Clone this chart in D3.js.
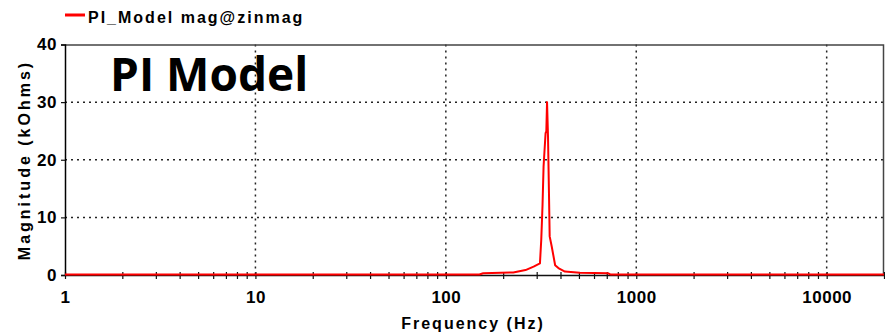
<!DOCTYPE html>
<html>
<head>
<meta charset="utf-8">
<script src="https://cdn.jsdelivr.net/npm/d3@7"></script>
<style>
  body { margin: 0; background: #fff; }
  svg text { font-family: "Liberation Sans", Arial, sans-serif; font-weight: bold; }
</style>
</head>
<body>
<div id="viz"></div>
<script>
// impedance magnitude vs frequency
const freqs = [1, 10, 100, 150, 157, 226, 262, 289, 312, 317, 322, 326, 334, 337, 340, 344, 348, 351, 360, 375, 390, 422, 506, 600, 713, 730, 1000, 10000, 20000];
const mags  = [0.1, 0.1, 0.1, 0.1, 0.3, 0.45, 0.85, 1.45, 2.0, 6.1, 12.2, 18.8, 24.6, 24.9, 30.0, 24.0, 14.2, 6.7, 4.9, 1.7, 1.2, 0.6, 0.4, 0.35, 0.3, 0.1, 0.1, 0.1, 0.1];

const xTickLabels = [1, 10, 100, 1000, 10000];
const yTicks = [0, 10, 20, 30, 40];
const seriesName = "PI_Model mag@zinmag";

const dataset = freqs.map((f, i) => ({ freq: f, mag: mags[i] }));

const xAccessor = d => d.freq;
const yAccessor = d => d.mag;

const dimensions = {
    width: 885,
    height: 336,
    margins: { top: 44.5, left: 65, right: 1, bottom: 61 }
};
dimensions.boundedWidth = dimensions.width - dimensions.margins.left - dimensions.margins.right;
dimensions.boundedHeight = dimensions.height - dimensions.margins.top - dimensions.margins.bottom;

const viz = d3.select('#viz').append('svg')
    .attr('width', dimensions.width)
    .attr('height', dimensions.height);

const bounds = viz.append('g')
    .attr('transform', `translate(${dimensions.margins.left},${dimensions.margins.top})`);

// scales
const xScale = d3.scaleLog()
    .domain([1, 20000])
    .range([0, dimensions.boundedWidth]);

const yScale = d3.scaleLinear()
    .domain([0, 40])
    .range([dimensions.boundedHeight, 0]);

// minor ticks 1..9 per decade
const minorTicks = [];
for (let p = 0; p <= 4; p++) {
    for (let m = 1; m <= 9; m++) {
        const v = m * Math.pow(10, p);
        if (v <= 20000) minorTicks.push(v);
    }
}

// grid
bounds.append('g')
    .selectAll('line')
    .data(xTickLabels.slice(1))
    .join('line')
    .attr('x1', d => xScale(d)).attr('x2', d => xScale(d))
    .attr('y1', 0).attr('y2', dimensions.boundedHeight)
    .attr('stroke', '#222').attr('stroke-width', 1.5)
    .attr('stroke-dasharray', '2,4');

bounds.append('g')
    .selectAll('line')
    .data(yTicks.slice(1, -1))
    .join('line')
    .attr('x1', 0).attr('x2', dimensions.boundedWidth)
    .attr('y1', d => yScale(d)).attr('y2', d => yScale(d))
    .attr('stroke', '#222').attr('stroke-width', 1.5)
    .attr('stroke-dasharray', '2,4');

// frame: top and right
bounds.append('path')
    .attr('d', `M0,0.5H${dimensions.boundedWidth - 0.5}V${dimensions.boundedHeight}`)
    .attr('fill', 'none')
    .attr('stroke', '#444')
    .attr('stroke-width', 1.5);

// axes
const xAxis = d3.axisBottom(xScale)
    .tickValues(minorTicks)
    .tickSize(7)
    .tickPadding(12)
    .tickFormat(d => xTickLabels.includes(d) ? d : '');

const xAxisGroup = bounds.append('g')
    .attr('transform', `translate(0,${dimensions.boundedHeight - 3})`)
    .call(xAxis);
xAxisGroup.select('.domain').remove();
xAxisGroup.selectAll('.tick line').attr('stroke', '#111').attr('stroke-width', 1.2);
xAxisGroup.selectAll('text')
    .attr('fill', '#000')
    .style('font-size', '17px')
    .style('letter-spacing', '0.5px');

const yAxis = d3.axisLeft(yScale)
    .tickValues(yTicks)
    .tickSize(4)
    .tickPadding(4);

const yAxisGroup = bounds.append('g').call(yAxis);
yAxisGroup.select('.domain').attr('stroke', '#000').attr('stroke-width', 1.5);
yAxisGroup.selectAll('.tick line').attr('stroke', '#111').attr('stroke-width', 1.2);
yAxisGroup.selectAll('text')
    .attr('fill', '#000')
    .style('font-size', '17px')
    .style('letter-spacing', '0.5px');

// bottom axis line
bounds.append('line')
    .attr('x1', 0).attr('x2', dimensions.boundedWidth)
    .attr('y1', dimensions.boundedHeight + 0.5).attr('y2', dimensions.boundedHeight + 0.5)
    .attr('stroke', '#111').attr('stroke-width', 1.5);

// data line
const lineGenerator = d3.line()
    .x(d => xScale(xAccessor(d)))
    .y(d => yScale(yAccessor(d)));

bounds.append('path')
    .datum(dataset)
    .attr('fill', 'none')
    .attr('stroke', '#ff0000')
    .attr('stroke-width', 2)
    .attr('stroke-linejoin', 'round')
    .attr('d', lineGenerator);

// labels
viz.append('text')
    .attr('x', 473)
    .attr('y', 329)
    .attr('text-anchor', 'middle')
    .style('font-size', '16px')
    .style('letter-spacing', '2px')
    .text('Frequency (Hz)');

viz.append('text')
    .attr('transform', 'translate(30,160) rotate(-90)')
    .attr('text-anchor', 'middle')
    .style('font-size', '16px')
    .style('letter-spacing', '3px')
    .text('Magnitude (kOhms)');

// legend
viz.append('line')
    .attr('x1', 65).attr('x2', 85)
    .attr('y1', 15).attr('y2', 15)
    .attr('stroke', '#ff0000').attr('stroke-width', 3);

viz.append('text')
    .attr('x', 88)
    .attr('y', 23)
    .style('font-size', '16px')
    .style('letter-spacing', '2px')
    .text(seriesName);

// title
viz.append('text')
    .attr('x', 110)
    .attr('y', 91)
    .style('font-family', '"Open Sans", sans-serif')
    .style('font-size', '46px')
    .style('font-weight', 'bold')
    .text('PI Model');
</script>
</body>
</html>
